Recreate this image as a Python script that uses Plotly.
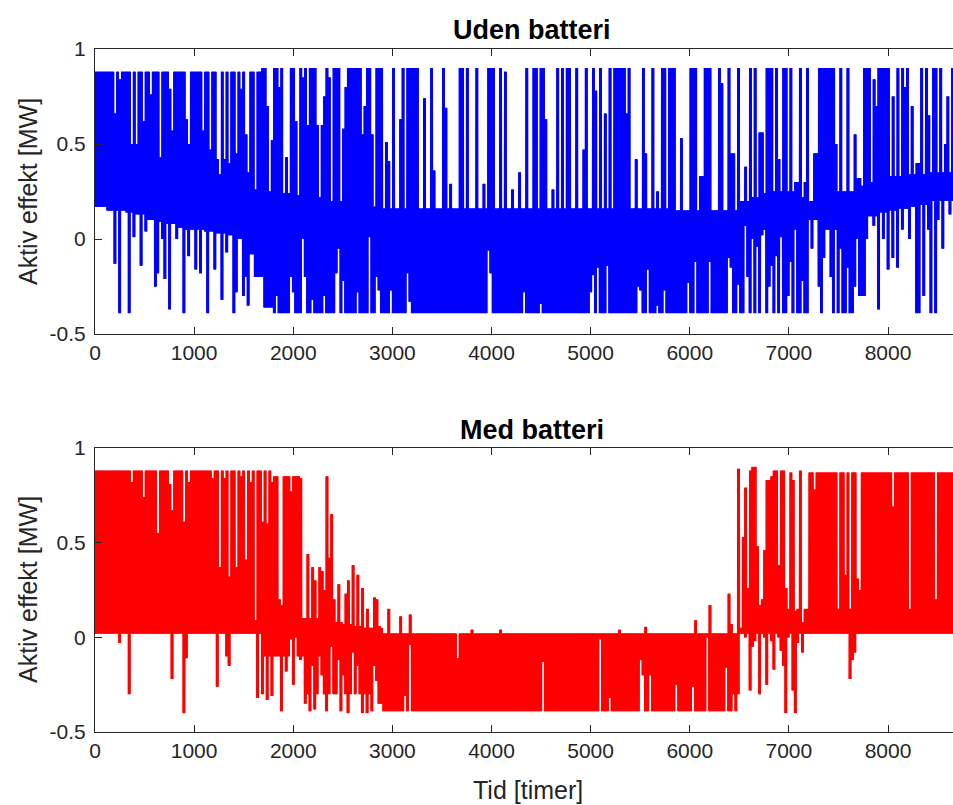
import plotly.graph_objects as go
from plotly.subplots import make_subplots

# ---------------- data ----------------
HOURS_PER_BIN = 100
N_DAYS = 365

# Blue series "Uden batteri": solid band edges per 100-hour bin
blue_hi_core = ([0.88] * 17 +
                [0.25, 0.25, 0.24, 0.23, 0.22, 0.22, 0.2, 0.2, 0.19, 0.18, 0.17, 0.17] +
                [0.16] * 29 +
                [0.15] * 7 +
                [0.2, 0.22, 0.24, 0.25, 0.25, 0.25] +
                [0.22, 0.2, 0.22, 0.24, 0.25, 0.25] +
                [0.28, 0.3, 0.32, 0.33, 0.33, 0.34, 0.34, 0.35, 0.35, 0.35, 0.35])
blue_lo_core = ([0.17, 0.15, 0.15, 0.14, 0.13, 0.1, 0.09, 0.08, 0.06, 0.05, 0.05, 0.04,
                 0.03, 0.02, 0.0, -0.08, -0.2, -0.36] +
                [-0.39] * 54 +
                [0.1, 0.05, -0.39, -0.39, -0.39, -0.3] +
                [0.12, 0.14, 0.15, 0.16, 0.17, 0.18, 0.2, 0.2, 0.2, 0.2])

# daily maxima that leave the band: hour, value, number of days
blue_hi_h = [202, 259, 380, 420, 504, 571, 656, 750, 790, 918, 948, 1093, 1160, 1227, 1271,
             1312, 1356, 1429, 1480, 1514, 1557, 1631, 1692,
             1682, 1783, 1810, 1894, 1935, 1968, 2040, 2075, 2170, 2250, 2287, 2340, 2375,
             2405, 2446, 2500, 2560, 2600, 2657, 2700, 2760, 2791, 2842, 2943, 2960, 3011,
             3078, 3104, 3152, 3195, 3246, 3330, 3397, 3431, 3514, 3541, 3599, 3676, 3716,
             3757, 3851, 3919, 3969, 4003, 4026, 4087, 4137, 4204, 4272, 4362, 4423, 4490,
             4524, 4558, 4624, 4675, 4709, 4759, 4793, 4860, 4928, 4961, 5022, 5062, 5096,
             5146, 5190, 5247, 5291, 5331, 5371, 5392, 5449, 5526, 5560, 5640, 5684,
             5734, 5790, 5840, 5919, 6003, 6071, 6098, 6160, 6210, 6290, 6323, 6390, 6424,
             6481, 6575, 6616, 6670, 6710, 6780, 6830, 6875, 6895, 6945, 7029, 7063, 7114,
             7164, 7197, 7265, 7300, 7355, 7400, 7455, 7484, 7534, 7601, 7668, 7702, 7755,
             7810, 7853, 7880, 7905, 7955, 8010, 8060, 8089, 8139, 8160, 8195, 8250, 8290,
             8330, 8385, 8420, 8459, 8530, 8577, 8600, 8644,
             1720, 1750, 1860, 2000, 2110, 2140, 2210, 2320, 2470, 2530, 2630, 2730, 2810]
blue_hi_v = [0.66, 0.84, 0.5, 0.5, 0.62, 0.76, 0.43, 0.79, 0.57, 0.63, 0.5, 0.57, 0.47, 0.42, 0.34,
             0.42, 0.4, 0.45, 0.79, 0.55, 0.35, 0.26, 0.55,
             0.9, 0.52, 0.9, 0.9, 0.43, 0.9, 0.62, 0.9, 0.9, 0.6, 0.6, 0.9, 0.85,
             0.9, 0.9, 0.58, 0.9, 0.9, 0.9, 0.55, 0.9, 0.55, 0.9, 0.51, 0.41, 0.9,
             0.63, 0.9, 0.9, 0.9, 0.9, 0.74, 0.9, 0.36, 0.9, 0.69, 0.29, 0.9, 0.9,
             0.9, 0.9, 0.29, 0.9, 0.9, 0.9, 0.9, 0.88, 0.26, 0.35, 0.9, 0.9, 0.9,
             0.9, 0.63, 0.26, 0.9, 0.9, 0.9, 0.9, 0.9, 0.47, 0.9, 0.9, 0.78, 0.9,
             0.66, 0.9, 0.9, 0.9, 0.9, 0.66, 0.9, 0.42, 0.9, 0.45, 0.9, 0.25,
             0.9, 0.9, 0.9, 0.53, 0.9, 0.9, 0.33, 0.9, 0.9, 0.9, 0.82, 0.9, 0.45,
             0.9, 0.38, 0.9, 0.9, 0.56, 0.9, 0.9, 0.9, 0.42, 0.9, 0.9, 0.3, 0.9,
             0.3, 0.9, 0.45, 0.9, 0.9, 0.9, 0.9, 0.5, 0.9, 0.9, 0.55, 0.32, 0.9,
             0.9, 0.84, 0.7, 0.9, 0.9, 0.9, 0.75, 0.9, 0.9, 0.8, 0.9, 0.7, 0.4,
             0.9, 0.9, 0.65, 0.9, 0.9, 0.5, 0.75, 0.9,
             0.9, 0.7, 0.8, 0.9, 0.85, 0.6, 0.9, 0.75, 0.9, 0.8, 0.9, 0.7, 0.9]
blue_hi_n = [1] * 23 + \
            [2, 1, 2, 1, 1, 2, 1, 3, 2, 1, 1, 2, 1,
             2, 1, 1, 3, 2, 2, 1, 2, 1, 3, 1, 1, 1,
             2, 1, 2, 2, 1, 1, 1, 1, 1, 1, 1, 1, 1,
             1, 1, 1, 1, 1, 1, 1, 1, 1, 1, 1, 2, 1, 2,
             1, 1, 1, 1, 1, 1, 1, 1, 1, 2, 1, 1,
             1, 1, 2, 2, 1, 1, 1, 1, 2, 1, 1,
             1, 2, 2, 1, 1, 2, 1, 2, 2, 1, 2, 1, 1,
             2, 1, 1, 1, 1, 2, 2, 1, 2, 1, 2, 1, 2,
             1, 2, 1, 2, 2, 2, 2, 1, 1, 1, 1, 1, 2,
             2, 1, 1, 2, 2, 2, 1, 1, 1, 1, 2, 1, 1,
             2, 1, 1, 1, 2, 1, 1, 1] + [1] * 13

# daily minima that leave the band
blue_lo_h = [202, 259, 346, 387, 461, 521, 605, 639, 673, 706, 763, 831, 908, 959, 1026, 1060,
             1144, 1221, 1278, 1329, 1396, 1429, 1497, 1530, 1560,
             1840, 1968, 2010, 2109, 2136, 2200, 2304, 2446, 2472, 2500, 2640, 2775, 2842, 2859,
             2993, 3152, 3171, 3979, 3992, 4322, 4500, 5012, 5035, 5079, 5170, 5482, 5499, 5573,
             5667, 5751, 5997, 6054, 6205, 6407, 6424, 6501,
             6575, 6600, 6626, 6676, 6727, 6760, 6800, 6828, 6878, 6929, 6990, 7029, 7080, 7140,
             7240, 7300, 7335, 7365, 7420, 7484, 7534, 7601, 7668, 7700,
             7790, 7853, 7914, 7950, 8000, 8050, 8100, 8150, 8230, 8290, 8326, 8375, 8410, 8443,
             8477, 8520, 8560, 8620]
blue_lo_v = [-0.13, -0.39, -0.39, 0.01, -0.14, 0.04, -0.25, -0.18, 0.0, -0.21, -0.37, 0.0, -0.39,
             -0.09, -0.16, -0.18, -0.39, -0.16, -0.32, -0.07, -0.39, -0.28, -0.3, -0.2, -0.35,
             -0.3, -0.2, -0.28, 0.0, -0.2, -0.32, -0.3, -0.18, -0.05, -0.22, -0.28, 0.01, -0.2,
             -0.27, -0.27, -0.18, -0.33, -0.06, -0.18, -0.28, -0.34, -0.28, -0.19, -0.15, -0.14,
             -0.25, -0.27, -0.16, -0.35, -0.27, -0.23, -0.12, -0.12, -0.1, -0.15, -0.24,
             0.07, -0.2, 0.0, -0.04, 0.02, 0.05, -0.25, -0.14, -0.09, 0.01, -0.3, -0.12, 0.05, -0.22,
             -0.05, -0.25, -0.39, -0.1, -0.2, 0.05, -0.05, -0.15, -0.25, 0.0,
             0.0, 0.07, -0.37, 0.0, -0.16, -0.1, -0.15, 0.05, 0.0, -0.39, -0.39, -0.3, 0.05, -0.39,
             -0.39, 0.1, -0.05, 0.13]

# Red series "Med batteri"
red_hi_core = ([0.88] * 18 + [0.85] * 3 +
               [0.1, 0.1, 0.09, 0.08, 0.07, 0.06, 0.05, 0.04] +
               [0.02] * 36 +
               [0.15] * 7 +
               [0.87] * 16)
red_lo_core = ([0.02] * 17 + [-0.1] * 4 + [-0.3] * 7 + [-0.35] + [-0.39] * 36 +
               [0.02] * 7 + [0.02] * 16)

red_hi_h = [380, 504, 646, 757, 784, 891, 942, 1194, 1268, 1312, 1352, 1429, 1480, 1514, 1564,
            1631, 1699, 1732, 1783, 1850, 1884, 1985, 2069,
            2153, 2187, 2220, 2264, 2287, 2321, 2345, 2371, 2398, 2420, 2455, 2472, 2522, 2560,
            2606, 2657, 2708, 2750, 2826, 2849, 2859, 2869, 2900, 2967, 3088, 3171,
            3656, 3800, 4100, 5300, 5567,
            6071, 6205, 6390, 6420, 6481, 6510,
            6535, 6559, 6582, 6609, 6626, 6650, 6670, 6693, 6715, 6740, 6755, 6777, 6800, 6828,
            6851, 6871, 6895, 6929, 6950, 6975, 7029, 7050, 7077, 7110, 7125, 7150,
            7248, 7500, 7567, 7610, 7701, 7725, 8050, 8216, 8492]
red_hi_v = [0.82, 0.74, 0.55, 0.81, 0.67, 0.61, 0.82, 0.84, 0.37, 0.84, 0.32, 0.37, 0.85, 0.41, 0.82,
            0.09, 0.61, 0.6, 0.82, 0.2, 0.17, 0.77, 0.84,
            0.44, 0.37, 0.3, 0.37, 0.35, 0.25, 0.85, 0.42, 0.65, 0.2, 0.79, 0.28, 0.23, 0.3,
            0.38, 0.33, 0.26, 0.15, 0.21, 0.2, 0.19, 0.06, 0.05, 0.15, 0.11, 0.12,
            -0.11, 0.04, 0.04, 0.04, 0.055,
            0.09, 0.17, 0.23, 0.07, 0.89, 0.05,
            0.53, 0.79, 0.26, 0.88, 0.9, 0.12, 0.9, 0.48, 0.17, 0.2, 0.46, 0.83, 0.83, 0.85,
            0.88, 0.88, 0.38, 0.88, 0.88, 0.26, 0.87, 0.83, 0.14, 0.88, 0.88, 0.08,
            0.78, 0.15, 0.33, 0.15, 0.31, 0.25, 0.69, 0.15, 0.2]
red_hi_n = [1] * len(red_hi_h)

red_lo_h = [259, 346, 784, 908, 925, 1228, 1329, 1345, 1362, 1648, 1682, 1699, 1732, 1783, 1850,
            1894, 1930, 1985, 2009, 2040, 2069, 2136,
            2170, 2200, 2230, 2264, 2300, 2350, 2380, 2450, 2480, 2520, 2560, 2600, 2650, 2700,
            2750, 2790, 2825, 2849, 3144, 3171, 4524, 5089, 5190, 5506, 5533, 5593, 5600, 5869,
            6031, 6189, 6374, 6450, 6490,
            6559, 6609, 6640, 6660, 6710, 6760, 6790, 6828, 6851, 6900, 6915, 6945, 6979, 7005,
            7050, 7077, 7100, 7131, 7150,
            7615, 7635, 7650, 7660]
red_lo_v = [-0.03, -0.3, -0.22, -0.4, -0.11, -0.26, -0.1, -0.2, -0.15, -0.32, -0.4, -0.3, -0.33,
            -0.31, -0.1, -0.39, -0.18, -0.01, -0.25, 0.0, -0.12, -0.35,
            -0.39, -0.15, -0.38, -0.1, -0.2, -0.39, -0.05, -0.12, -0.39, -0.2, -0.4, -0.08,
            -0.15, -0.4, -0.4, -0.39, -0.15, -0.23, -0.31, -0.04, -0.13, -0.01, -0.32, -0.12,
            -0.2, -0.13, -0.2, -0.25, -0.26, 0.0, -0.16, -0.3, -0.3,
            0.0, -0.28, -0.05, -0.02, -0.3, 0.0, -0.25, -0.02, -0.17, 0.0, -0.07, -0.15, -0.4, 0.0,
            -0.28, -0.4, -0.03, -0.32, -0.08,
            -0.22, -0.23, -0.12, -0.08]

x_ticks = [0, 1000, 2000, 3000, 4000, 5000, 6000, 7000, 8000]
y_ticks = [-0.5, 0, 0.5, 1]
y_tick_text = ["-0.5", "0", "0.5", "1"]
titles = ["Uden batteri", "Med batteri"]
y_label = "Aktiv effekt [MW]"
x_label = "Tid [timer]"


# ---------------- build the hourly trace ----------------
def build(hi_core, lo_core, hi_h, hi_v, hi_n, lo_h, lo_v):
    hi = [hi_core[min((24 * d + 12) // HOURS_PER_BIN, len(hi_core) - 1)] for d in range(N_DAYS)]
    lo = [lo_core[min((24 * d) // HOURS_PER_BIN, len(lo_core) - 1)] for d in range(N_DAYS)]
    for h, v, n in zip(hi_h, hi_v, hi_n):
        d0 = int(round((h - 12) / 24))
        for k in range(n):
            if 0 <= d0 + k < N_DAYS:
                hi[d0 + k] = v
    for h, v in zip(lo_h, lo_v):
        d0 = int(round((h - 12) / 24))
        if 0 <= d0 < N_DAYS:
            lo[d0] = v
    xs, ys = [], []
    for d in range(N_DAYS):
        # several up/down swings per day so the daily band draws solid
        for k in range(4):
            xs += [24 * d + 6 * k, 24 * d + 6 * k + 3]
            ys += [lo[d], hi[d]]
    xs.append(24 * N_DAYS)
    ys.append(lo[-1])
    return xs, ys


bx, by = build(blue_hi_core, blue_lo_core, blue_hi_h, blue_hi_v, blue_hi_n, blue_lo_h, blue_lo_v)
rx, ry = build(red_hi_core, red_lo_core, red_hi_h, red_hi_v, red_hi_n, red_lo_h, red_lo_v)

# ---------------- figure ----------------
W, H = 953, 805
ML, MR, MT, MB = 95, 0, 49, 73
ph = H - MT - MB


def py(p):
    return (H - MB - p) / ph


def px(p):
    return (p - ML) / (W - ML - MR)


fig = make_subplots(rows=2, cols=1)
fig.add_trace(go.Scatter(x=bx, y=by, mode="lines",
                         line=dict(color="#0000FF", width=1, simplify=False),
                         showlegend=False, hoverinfo="skip"), row=1, col=1)
fig.add_trace(go.Scatter(x=rx, y=ry, mode="lines",
                         line=dict(color="#FF0000", width=1, simplify=False),
                         showlegend=False, hoverinfo="skip"), row=2, col=1)

FONT = "Liberation Sans, Arial, Helvetica, sans-serif"
TXT = "#262626"
xr = [0, (W - ML) / (888 - ML) * 8000]

axis_common = dict(showline=True, linecolor=TXT, linewidth=1, ticks="inside", ticklen=7,
                   tickcolor=TXT, tickwidth=1, showgrid=False, zeroline=False,
                   tickfont=dict(family=FONT, size=21, color=TXT))

fig.update_layout(
    xaxis=dict(domain=[0, 1], range=xr, tickvals=x_ticks, mirror="ticks", anchor="y", **axis_common),
    xaxis2=dict(domain=[0, 1], range=xr, tickvals=x_ticks, mirror="ticks", anchor="y2", **axis_common),
    yaxis=dict(domain=[py(334), py(49)], range=[-0.5, 1], tickvals=y_ticks, ticktext=y_tick_text,
               mirror=False, anchor="x", ticklabelstandoff=4, **axis_common),
    yaxis2=dict(domain=[py(732), py(448)], range=[-0.5, 1], tickvals=y_ticks, ticktext=y_tick_text,
                mirror=False, anchor="x2", ticklabelstandoff=4, **axis_common),
)

ann = []
ann.append(dict(text="<b>%s</b>" % titles[0], x=px(532), y=py(30), xref="paper", yref="paper",
                showarrow=False, font=dict(family=FONT, size=27, color="#000000"),
                xanchor="center", yanchor="middle"))
ann.append(dict(text="<b>%s</b>" % titles[1], x=px(532), y=py(430), xref="paper", yref="paper",
                showarrow=False, font=dict(family=FONT, size=27, color="#000000"),
                xanchor="center", yanchor="middle"))
for cy in (192, 590):
    ann.append(dict(text=y_label, x=px(28), y=py(cy), xref="paper", yref="paper", textangle=-90,
                    showarrow=False, font=dict(family=FONT, size=25, color=TXT),
                    xanchor="center", yanchor="middle"))
ann.append(dict(text=x_label, x=px(528), y=py(790), xref="paper", yref="paper", showarrow=False,
                font=dict(family=FONT, size=25, color=TXT), xanchor="center", yanchor="middle"))

fig.update_layout(
    width=W, height=H,
    margin=dict(l=ML, r=MR, t=MT, b=MB),
    paper_bgcolor="white", plot_bgcolor="white",
    annotations=ann,
)

fig.write_html("out.html", config={"displayModeBar": False})
